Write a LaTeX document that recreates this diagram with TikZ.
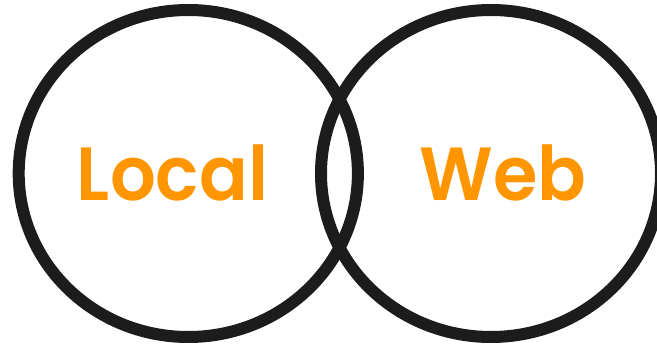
\documentclass[tikz,border=0pt]{standalone}
\usepackage{fontspec}
\setmainfont{Poppins SemiBold}[FakeStretch=0.955]
\definecolor{ring}{HTML}{1C1C1C}
\definecolor{lab}{HTML}{FF9500}
\tikzset{ringc/.style={draw=ring,line width=9pt},
lbl/.style={text=lab,font=\fontsize{56.5}{56.5}\selectfont,inner sep=0pt,anchor=base}}
\begin{document}
\begin{tikzpicture}[x=0.75pt,y=-0.75pt]
\useasboundingbox (0,0) rectangle (657,345);
\draw[ringc] (188.3,173.5) ellipse [x radius=169.6,y radius=163.5];
\draw[ringc] (491,173.5) ellipse [x radius=170,y radius=163.5];
\node[lbl] (l) at (172.5,200.5) {Local};
\node[lbl] (w) at (503,200.5) {Web};
\end{tikzpicture}
\end{document}
